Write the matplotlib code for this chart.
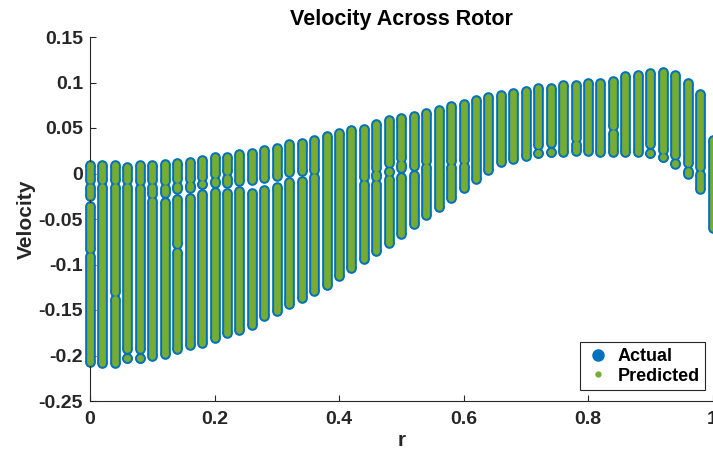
import matplotlib.pyplot as plt
from matplotlib.lines import Line2D

plt.rcParams['font.family'] = ['Liberation Sans', 'DejaVu Sans']
plt.rcParams['font.weight'] = 'bold'

# radial positions (one column of samples per r)
r = [0.00, 0.02, 0.04, 0.06, 0.08, 0.10, 0.12, 0.14, 0.16, 0.18,
     0.20, 0.22, 0.24, 0.26, 0.28, 0.30, 0.32, 0.34, 0.36, 0.38,
     0.40, 0.42, 0.44, 0.46, 0.48, 0.50, 0.52, 0.54, 0.56, 0.58,
     0.60, 0.62, 0.64, 0.66, 0.68, 0.70, 0.72, 0.74, 0.76, 0.78,
     0.80, 0.82, 0.84, 0.86, 0.88, 0.90, 0.92, 0.94, 0.96, 0.98,
     1.00]

# velocity runs per column, (top, bottom) of each densely sampled run
vel_runs = [
    [(0.009, -0.007), (-0.015, -0.025), (-0.036, -0.083), (-0.091, -0.207)],
    [(0.009, -0.007), (-0.015, -0.208)],
    [(0.009, -0.007), (-0.015, -0.130), (-0.138, -0.208)],
    [(0.007, -0.007), (-0.015, -0.193), (-0.203, -0.203)],
    [(0.009, -0.008), (-0.016, -0.193), (-0.203, -0.203)],
    [(0.009, -0.007), (-0.015, -0.022), (-0.030, -0.200)],
    [(0.010, -0.008), (-0.016, -0.021), (-0.031, -0.198)],
    [(0.012, -0.006), (-0.014, -0.017), (-0.028, -0.077), (-0.086, -0.193)],
    [(0.013, -0.006), (-0.013, -0.016), (-0.027, -0.189)],
    [(0.015, -0.004), (-0.011, -0.012), (-0.023, -0.186)],
    [(0.018, 0.000), (-0.008, -0.010), (-0.020, -0.181)],
    [(0.018, 0.003), (-0.005, -0.010), (-0.021, -0.175)],
    [(0.021, -0.008), (-0.019, -0.172)],
    [(0.023, -0.007), (-0.021, -0.166)],
    [(0.026, -0.005), (-0.018, -0.157)],
    [(0.028, -0.003), (-0.015, -0.151)],
    [(0.032, 0.002), (-0.009, -0.143)],
    [(0.034, 0.003), (-0.008, -0.137)],
    [(0.037, 0.004), (-0.004, -0.129)],
    [(0.041, -0.122)],
    [(0.045, -0.113)],
    [(0.048, -0.104)],
    [(0.049, -0.004), (-0.012, -0.094)],
    [(0.054, 0.006), (0.000, -0.004), (-0.011, -0.085)],
    [(0.059, 0.011), (0.003, 0.002), (-0.006, -0.076)],
    [(0.061, 0.017), (0.010, 0.006), (-0.004, -0.066)],
    [(0.063, 0.008), (-0.002, -0.056)],
    [(0.067, 0.014), (0.007, -0.046)],
    [(0.070, -0.037)],
    [(0.074, 0.014), (0.007, -0.027)],
    [(0.076, 0.015), (0.008, -0.016)],
    [(0.081, -0.006)],
    [(0.084, 0.004)],
    [(0.086, 0.013)],
    [(0.089, 0.016)],
    [(0.091, 0.019)],
    [(0.094, 0.031), (0.022, 0.022)],
    [(0.094, 0.033), (0.024, 0.024)],
    [(0.097, 0.024)],
    [(0.097, 0.039), (0.032, 0.025)],
    [(0.099, 0.025)],
    [(0.100, 0.024)],
    [(0.102, 0.052), (0.045, 0.024)],
    [(0.107, 0.024)],
    [(0.108, 0.024)],
    [(0.110, 0.032), (0.023, 0.023)],
    [(0.111, 0.026), (0.018, 0.018)],
    [(0.108, 0.020), (0.012, 0.010)],
    [(0.100, 0.011), (0.003, -0.001)],
    [(0.087, 0.007), (-0.001, -0.017)],
    [(0.037, -0.060)],
]

xticks = [0, 0.2, 0.4, 0.6, 0.8, 1]
xtick_labels = ['0', '0.2', '0.4', '0.6', '0.8', '1']
yticks = [-0.25, -0.2, -0.15, -0.1, -0.05, 0, 0.05, 0.1, 0.15]
ytick_labels = ['-0.25', '-0.2', '-0.15', '-0.1', '-0.05', '0', '0.05', '0.1', '0.15']

blue = '#0072BD'
green = '#77AC30'
ink = '#262626'

fig = plt.figure(figsize=(7.13, 4.54), dpi=100)
# the original is cropped right at r = 1
ax = fig.add_axes([90 / 713, 53 / 454, 622.5 / 713, 364 / 454])

# flatten runs into segments and end points
seg_x, seg_hi, seg_lo, pt_x, pt_v = [], [], [], [], []
for x, runs in zip(r, vel_runs):
    for hi, lo in runs:
        seg_x.append(x)
        seg_hi.append(hi)
        seg_lo.append(lo)
        pt_x += [x, x]
        pt_v += [hi, lo]

ax.vlines(seg_x, seg_lo, seg_hi, color=blue, lw=7.7, zorder=2, clip_on=False)
ax.scatter(pt_x, pt_v, s=59, color=blue, linewidths=0, zorder=2, clip_on=False)
ax.vlines(seg_x, seg_lo, seg_hi, color=green, lw=4.8, zorder=3, clip_on=False)
ax.scatter(pt_x, pt_v, s=23, color=green, linewidths=0, zorder=3, clip_on=False)

ax.set_xlim(0, 1)
ax.set_ylim(-0.25, 0.15)
ax.set_xticks(xticks)
ax.set_xticklabels(xtick_labels)
ax.set_yticks(yticks)
ax.set_yticklabels(ytick_labels)
ax.tick_params(direction='in', length=4, width=0.8, colors=ink, labelsize=14, pad=5)
ax.tick_params(axis='x', pad=7)
for side in ['top', 'right']:
    ax.spines[side].set_visible(False)
for side in ['left', 'bottom']:
    ax.spines[side].set_color(ink)
    ax.spines[side].set_linewidth(0.8)

ax.set_title('Velocity Across Rotor', fontsize=15.5, fontweight='bold', pad=9)
ax.set_xlabel('r', fontsize=15, fontweight='bold', color=ink, labelpad=2)
ax.set_ylabel('Velocity', fontsize=15, fontweight='bold', color=ink, labelpad=2)

handles = [Line2D([], [], ls='', marker='o', color=blue, markersize=8),
           Line2D([], [], ls='', marker='o', color=green, markersize=3.5)]
leg = ax.legend(handles, ['Actual', 'Predicted'], loc='lower right',
                bbox_to_anchor=(705 / 713, 64 / 454), bbox_transform=fig.transFigure,
                borderaxespad=0, fancybox=False, framealpha=1, edgecolor=ink,
                prop={'size': 13, 'weight': 'bold'}, handletextpad=0.3,
                labelspacing=0.15, borderpad=0.3, handlelength=1.5)
leg.get_frame().set_linewidth(0.8)
leg.set_zorder(5)

fig.savefig('out.png', dpi=100)
